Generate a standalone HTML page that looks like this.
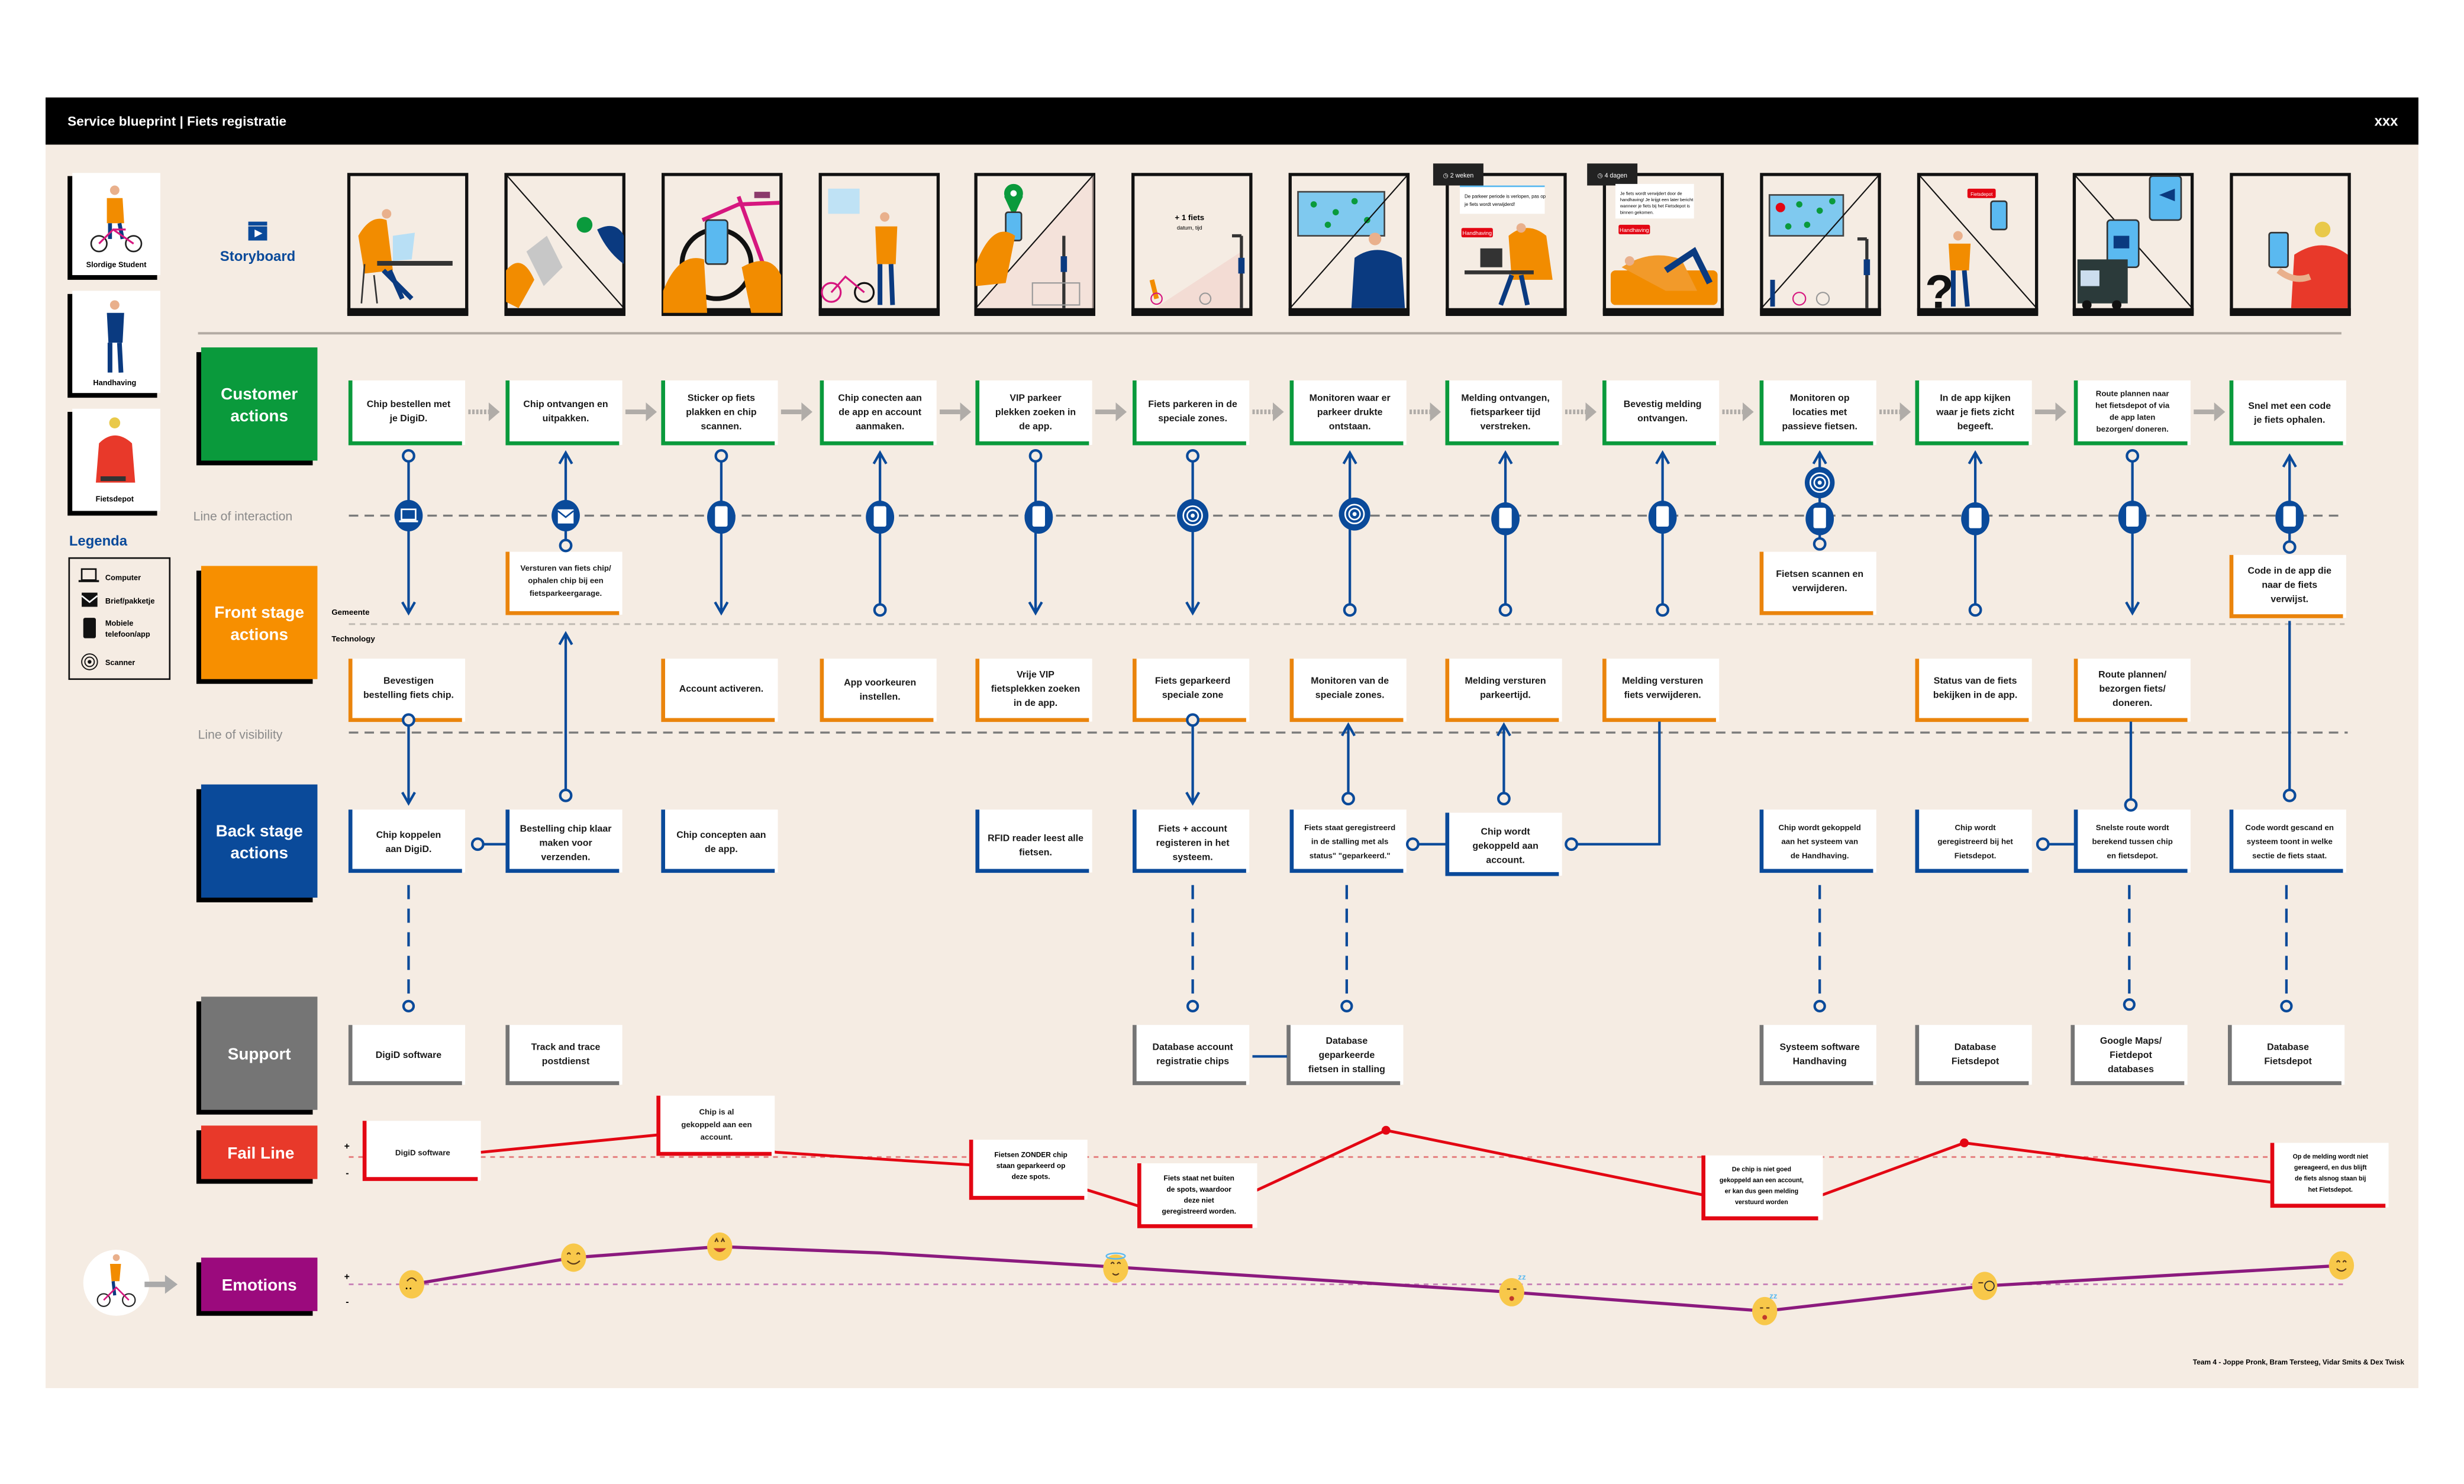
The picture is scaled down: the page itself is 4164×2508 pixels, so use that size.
<!DOCTYPE html>
<html><head><meta charset="utf-8">
<style>
html,body{margin:0;padding:0;background:#fff;}
svg{display:block;}
text{font-family:"Liberation Sans Narrow","Liberation Sans",sans-serif;}
.bt{font-size:6px;font-weight:bold;fill:#1a1a1a;}
.st{font-size:5px;font-weight:bold;fill:#1a1a1a;}
.lane{font-size:10.5px;font-weight:bold;fill:#fff;font-family:"Liberation Sans",sans-serif;}
.conn{stroke:#0a4a9a;stroke-width:1.6;fill:none;}
.oc{fill:#f5ece3;stroke:#0a4a9a;stroke-width:1.6;}
.ic{fill:#0a4a9a;}
.fr{fill:#f5ece3;stroke:#111;stroke-width:2;}
</style></head>
<body>
<svg width="4164" height="2508" viewBox="0 0 1568 944" preserveAspectRatio="none" xmlns="http://www.w3.org/2000/svg">
<rect x="0" y="0" width="1568" height="944" fill="#fff"/>
<rect x="29" y="62" width="1510" height="821" fill="#f5ece3"/>
<rect x="29" y="62" width="1510" height="30" fill="#000"/>
<text x="43" y="80" style="font-size:8.5px;font-weight:bold;fill:#fff">Service blueprint | Fiets registratie</text>
<text x="1526" y="80" text-anchor="end" style="font-size:9px;font-weight:bold;fill:#fff;font-family:'Liberation Sans',sans-serif">xxx</text>

<!-- personas -->
<g>
<rect x="43" y="112" width="57" height="66" fill="#000"/><rect x="46" y="110" width="56" height="65" fill="#fff"/>
<circle cx="73" cy="121" r="3" fill="#e9b08c"/><path d="M68 126 L78 126 L79 142 L68 142Z" fill="#f28c00"/><path d="M70 142 L70 152 M76 142 L78 152" stroke="#0a3a80" stroke-width="2.5"/>
<circle cx="63" cy="155" r="5" fill="none" stroke="#222" stroke-width="1"/><circle cx="85" cy="155" r="5" fill="none" stroke="#222" stroke-width="1"/><path d="M63 155 L72 146 L85 155 M72 146 L80 146" stroke="#d6177f" stroke-width="1.2" fill="none"/>
<text x="74" y="170" text-anchor="middle" style="font-size:4.8px;font-weight:bold">Slordige Student</text>

<rect x="43" y="187" width="57" height="66" fill="#000"/><rect x="46" y="185" width="56" height="65" fill="#fff"/>
<circle cx="73" cy="194" r="3" fill="#e9b08c"/><path d="M68 199 L79 199 L78 218 L69 218Z" fill="#0a3a80"/><path d="M70 218 L70 237 M76 218 L77 237" stroke="#0a3a80" stroke-width="3"/>
<text x="73" y="245" text-anchor="middle" style="font-size:4.8px;font-weight:bold">Handhaving</text>

<rect x="43" y="262" width="57" height="66" fill="#000"/><rect x="46" y="260" width="56" height="65" fill="#fff"/>
<circle cx="73" cy="269" r="3.5" fill="#e9c94a"/><path d="M63 282 Q73 272 84 282 L86 307 L61 307Z" fill="#e8392a"/><rect x="64" y="303" width="16" height="3" fill="#333"/>
<text x="73" y="319" text-anchor="middle" style="font-size:4.8px;font-weight:bold">Fietsdepot</text>
</g>

<!-- storyboard label -->
<rect x="158" y="144" width="12" height="9" fill="#0a4a9a"/><rect x="158" y="141" width="12" height="2.5" fill="#0a4a9a"/><path d="M162 146 L167 148.5 L162 151Z" fill="#fff"/>
<text x="164" y="166" text-anchor="middle" style="font-size:9px;font-weight:bold;fill:#0a4a9a">Storyboard</text>

<!-- storyboard frames -->
<g>
<rect x="222" y="111" width="75" height="88" class="fr"/><rect x="221" y="196" width="77" height="5" fill="#111"/>
<path d="M228 150 Q236 136 246 140 L250 172 L232 174Z" fill="#f28c00"/><circle cx="246" cy="136" r="3" fill="#e9b08c"/><rect x="240" y="166" width="48" height="3" fill="#333"/><path d="M250 150 L264 148 L262 165 L250 166Z" fill="#b8dff5"/><path d="M244 172 L262 190 M248 172 L256 190" stroke="#0a3a80" stroke-width="3"/><path d="M232 168 L230 193 M238 175 L240 193" stroke="#333" stroke-width="1"/>
<rect x="322" y="111" width="75" height="88" class="fr"/><rect x="321" y="196" width="77" height="5" fill="#111"/>
<line x1="322" y1="111" x2="397" y2="196" stroke="#111" stroke-width="0.8"/>
<path d="M335 160 L348 150 L358 170 L346 182Z" fill="#c7c7c7"/><path d="M322 192 L322 172 Q332 160 340 178 L330 196Z" fill="#f28c00"/><circle cx="372" cy="143" r="5" fill="#0a9a3c"/><path d="M380 146 Q392 140 397 150 L397 168 Q386 160 380 146Z" fill="#0a3a80"/>
<rect x="422" y="111" width="75" height="88" class="fr"/><rect x="421" y="196" width="77" height="5" fill="#111"/>
<circle cx="456" cy="168" r="22" fill="none" stroke="#111" stroke-width="3"/><path d="M447 140 L470 130 L496 129 M470 125 L490 180" stroke="#d6177f" stroke-width="2.5" fill="none"/><rect x="480" y="122" width="10" height="4" fill="#8b3a6b"/><rect x="449" y="140" width="14" height="28" rx="2" fill="#5ab9f0" stroke="#333"/><path d="M422 185 Q432 160 448 165 L450 199 L422 199Z" fill="#f28c00"/><path d="M472 170 Q490 160 497 175 L497 199 L478 199Z" fill="#f28c00"/>
<rect x="522" y="111" width="75" height="88" class="fr"/><rect x="521" y="196" width="77" height="5" fill="#111"/>
<rect x="527" y="120" width="20" height="16" fill="#bfe2f5"/><circle cx="563" cy="138" r="3" fill="#e9b08c"/><path d="M557 144 L571 144 L570 168 L558 168Z" fill="#f28c00"/><path d="M560 168 L560 194 M567 168 L568 194" stroke="#0a3a80" stroke-width="3"/><circle cx="529" cy="186" r="6" fill="none" stroke="#d6177f" stroke-width="1.2"/><circle cx="550" cy="186" r="6" fill="none" stroke="#111" stroke-width="1.2"/><path d="M529 186 L538 176 L550 186" stroke="#d6177f" stroke-width="1.2" fill="none"/>
<rect x="621" y="111" width="75" height="88" class="fr"/><rect x="620" y="196" width="77" height="5" fill="#111"/>
<path d="M621 196 L696 111 L696 196Z" fill="#f3dcd4" opacity="0.6"/>
<line x1="621" y1="196" x2="696" y2="111" stroke="#111" stroke-width="0.8"/>
<circle cx="645" cy="123" r="6" fill="#0a9a3c"/><path d="M639 125 L645 138 L651 125Z" fill="#0a9a3c"/><circle cx="645" cy="123" r="2" fill="#fff"/><rect x="640" y="135" width="10" height="18" rx="1.5" fill="#5ab9f0" stroke="#333"/><path d="M621 168 Q632 140 646 150 L640 180 L621 182Z" fill="#f28c00"/><path d="M677 150 L677 196" stroke="#333" stroke-width="2"/><rect x="675" y="163" width="4" height="10" fill="#0a3a80"/><rect x="657" y="180" width="30" height="14" fill="none" stroke="#999" stroke-width="0.8"/>
<rect x="721" y="111" width="75" height="88" class="fr"/><rect x="720" y="196" width="77" height="5" fill="#111"/>
<path d="M735 196 L790 160 L790 196Z" fill="#f3dcd4"/>
<text x="757" y="140" text-anchor="middle" style="font-size:5px;font-weight:bold">+ 1 fiets</text><text x="757" y="146" text-anchor="middle" style="font-size:3.5px">datum, tijd</text>
<path d="M790 150 L790 196" stroke="#333" stroke-width="2"/><rect x="788" y="164" width="4" height="10" fill="#0a3a80"/><path d="M784 150 L790 150" stroke="#333" stroke-width="2"/><path d="M733 178 L736 190" stroke="#f28c00" stroke-width="3"/><circle cx="736" cy="190" r="3.5" fill="none" stroke="#d6177f" stroke-width="0.8"/><circle cx="767" cy="190" r="3.5" fill="none" stroke="#999" stroke-width="0.8"/>
<rect x="821" y="111" width="75" height="88" class="fr"/><rect x="820" y="196" width="77" height="5" fill="#111"/>
<rect x="826" y="122" width="55" height="28" fill="#7fc9ef" stroke="#444" stroke-width="1"/><circle cx="836" cy="130" r="2" fill="#0a9a3c"/><circle cx="850" cy="135" r="2" fill="#0a9a3c"/><circle cx="862" cy="128" r="2" fill="#0a9a3c"/><circle cx="845" cy="143" r="2" fill="#0a9a3c"/><circle cx="870" cy="140" r="2" fill="#0a9a3c"/>
<line x1="821" y1="196" x2="896" y2="111" stroke="#111" stroke-width="0.8"/>
<circle cx="875" cy="152" r="4" fill="#e9b08c"/><path d="M862 164 Q876 154 892 164 L894 196 L860 196Z" fill="#0a3a80"/>
<rect x="921" y="111" width="75" height="88" class="fr"/><rect x="920" y="196" width="77" height="5" fill="#111"/>
<rect x="912" y="104" width="32" height="14" fill="#222"/><text x="928" y="113" text-anchor="middle" style="font-size:4px;fill:#fff">&#9719; 2 weken</text>
<rect x="929" y="118" width="54" height="18" fill="#fff"/><rect x="929" y="118" width="54" height="1" fill="#5ab9f0"/><text x="932" y="126" style="font-size:3px">De parkeer periode is verlopen, pas op</text><text x="932" y="131" style="font-size:3px">je fiets wordt verwijderd!</text>
<rect x="930" y="145" width="20" height="6" rx="1" fill="#e30613"/><text x="940" y="149.5" text-anchor="middle" style="font-size:3.5px;fill:#fff">Handhaving</text>
<path d="M960 150 Q972 140 984 150 L988 178 L962 178Z" fill="#f28c00"/><circle cx="968" cy="145" r="3" fill="#e9b08c"/><rect x="942" y="158" width="14" height="12" fill="#333"/><rect x="932" y="172" width="44" height="2.5" fill="#333"/><path d="M962 175 L955 194 M968 175 L972 194" stroke="#0a3a80" stroke-width="3"/>
<rect x="1021" y="111" width="75" height="88" class="fr"/><rect x="1020" y="196" width="77" height="5" fill="#111"/>
<rect x="1010" y="104" width="32" height="14" fill="#222"/><text x="1026" y="113" text-anchor="middle" style="font-size:4px;fill:#fff">&#9719; 4 dagen</text>
<rect x="1028" y="117" width="50" height="22" fill="#fff"/><text x="1031" y="124" style="font-size:2.8px">Je fiets wordt verwijdert door de</text><text x="1031" y="128" style="font-size:2.8px">handhaving! Je krijgt een later bericht</text><text x="1031" y="132" style="font-size:2.8px">wanneer je fiets bij het Fietsdepot is</text><text x="1031" y="136" style="font-size:2.8px">binnen gekomen.</text>
<rect x="1030" y="143" width="20" height="6" rx="1" fill="#e30613"/><text x="1040" y="147.5" text-anchor="middle" style="font-size:3.5px;fill:#fff">Handhaving</text>
<rect x="1025" y="172" width="68" height="22" rx="3" fill="#f28c00"/><path d="M1032 170 Q1050 158 1070 165 L1080 185 L1060 185 Z" fill="#f29a2a"/><path d="M1060 172 L1078 160 L1088 180" stroke="#0a3a80" stroke-width="4" fill="none"/><circle cx="1037" cy="166" r="3" fill="#e9b08c"/>
<rect x="1121" y="111" width="75" height="88" class="fr"/><rect x="1120" y="196" width="77" height="5" fill="#111"/>
<rect x="1126" y="124" width="47" height="26" fill="#7fc9ef" stroke="#444" stroke-width="1"/><circle cx="1133" cy="132" r="3" fill="#e30613"/><circle cx="1145" cy="130" r="2" fill="#0a9a3c"/><circle cx="1158" cy="134" r="2" fill="#0a9a3c"/><circle cx="1150" cy="143" r="2" fill="#0a9a3c"/><circle cx="1138" cy="144" r="2" fill="#0a9a3c"/><circle cx="1166" cy="128" r="2" fill="#0a9a3c"/>
<line x1="1121" y1="196" x2="1196" y2="111" stroke="#111" stroke-width="0.8"/>
<path d="M1188 152 L1188 196" stroke="#333" stroke-width="2"/><rect x="1186" y="165" width="4" height="10" fill="#0a3a80"/><path d="M1182 152 L1188 152" stroke="#333" stroke-width="2"/><path d="M1128 178 L1128 195" stroke="#0a3a80" stroke-width="3"/><circle cx="1145" cy="190" r="4" fill="none" stroke="#d6177f" stroke-width="0.8"/><circle cx="1160" cy="190" r="4" fill="none" stroke="#999" stroke-width="0.8"/>
<rect x="1221" y="111" width="75" height="88" class="fr"/><rect x="1220" y="196" width="77" height="5" fill="#111"/>
<line x1="1221" y1="111" x2="1296" y2="196" stroke="#111" stroke-width="0.8"/>
<text x="1225" y="196" style="font-size:30px;font-weight:bold;fill:#111;font-family:'Liberation Sans',sans-serif">?</text>
<circle cx="1246" cy="150" r="3" fill="#e9b08c"/><path d="M1240 155 L1254 155 L1253 172 L1241 172Z" fill="#f28c00"/><path d="M1243 172 L1243 195 M1250 172 L1252 195" stroke="#0a3a80" stroke-width="3"/><rect x="1267" y="128" width="10" height="18" rx="1.5" fill="#5ab9f0" stroke="#333"/><rect x="1252" y="120" width="18" height="6" rx="1" fill="#e30613"/><text x="1261" y="124.5" text-anchor="middle" style="font-size:3px;fill:#fff">Fietsdepot</text>
<rect x="1320" y="111" width="75" height="88" class="fr"/><rect x="1319" y="196" width="77" height="5" fill="#111"/>
<line x1="1320" y1="111" x2="1395" y2="196" stroke="#111" stroke-width="0.8"/>
<rect x="1341" y="140" width="20" height="30" rx="2" fill="#5ab9f0" stroke="#333"/><rect x="1345" y="150" width="10" height="8" fill="#0a3a80"/><rect x="1368" y="112" width="20" height="28" rx="2" fill="#5ab9f0" stroke="#333"/><path d="M1374 124 L1384 120 L1384 128Z" fill="#0a3a80"/><rect x="1322" y="165" width="32" height="28" fill="#2b3a3a"/><rect x="1324" y="172" width="12" height="10" fill="#cde"/><circle cx="1328" cy="194" r="3" fill="#111"/><circle cx="1347" cy="194" r="3" fill="#111"/>
<rect x="1420" y="111" width="75" height="88" class="fr"/><rect x="1419" y="196" width="77" height="5" fill="#111"/>
<circle cx="1478" cy="146" r="5" fill="#e9c94a"/><path d="M1460 162 Q1478 150 1494 162 L1494 196 L1458 196Z" fill="#e8392a"/><rect x="1444" y="148" width="12" height="22" rx="1.5" fill="#5ab9f0" stroke="#333"/><path d="M1450 172 Q1460 180 1470 176" stroke="#e9b08c" stroke-width="4" fill="none"/>
</g>

<line x1="126" y1="212" x2="1490" y2="212" stroke="#b3aba3" stroke-width="1.5"/>

<g>
<rect x="125" y="224" width="74" height="72" fill="#000"/><rect x="128" y="221" width="74" height="72" fill="#0a9a3c"/>
<text x="165" y="254" text-anchor="middle" class="lane">Customer</text><text x="165" y="268" text-anchor="middle" class="lane">actions</text>
<rect x="125" y="363" width="74" height="72" fill="#000"/><rect x="128" y="360" width="74" height="72" fill="#f78f00"/>
<text x="165" y="393" text-anchor="middle" class="lane">Front stage</text><text x="165" y="407" text-anchor="middle" class="lane">actions</text>
<rect x="125" y="502" width="74" height="72" fill="#000"/><rect x="128" y="499" width="74" height="72" fill="#0a4a9a"/>
<text x="165" y="532" text-anchor="middle" class="lane">Back stage</text><text x="165" y="546" text-anchor="middle" class="lane">actions</text>
<rect x="125" y="637" width="74" height="72" fill="#000"/><rect x="128" y="634" width="74" height="72" fill="#757575"/>
<text x="165" y="674" text-anchor="middle" class="lane">Support</text>
<rect x="125" y="719" width="74" height="34" fill="#000"/><rect x="128" y="716" width="74" height="34" fill="#e8392a"/>
<text x="166" y="737" text-anchor="middle" class="lane">Fail Line</text>
<rect x="125" y="803" width="74" height="34" fill="#000"/><rect x="128" y="800" width="74" height="34" fill="#9b0a7d"/>
<text x="165" y="821" text-anchor="middle" class="lane">Emotions</text>
</g>

<text x="44" y="347" style="font-size:9px;font-weight:bold;fill:#0a4a9a">Legenda</text>
<rect x="44" y="355" width="64" height="77" fill="none" stroke="#111" stroke-width="1"/>
<rect x="52" y="362" width="9" height="7" fill="none" stroke="#111" stroke-width="1"/><rect x="50" y="369" width="13" height="1.3" fill="#111"/>
<text x="67" y="369" style="font-size:4.8px;font-weight:bold">Computer</text>
<rect x="52" y="377" width="10" height="9" fill="#111"/><path d="M52 379 L57 383 L62 379" stroke="#fff" stroke-width="1" fill="none"/>
<text x="67" y="384" style="font-size:4.8px;font-weight:bold">Brief/pakketje</text>
<rect x="53" y="393" width="8" height="13" rx="1.2" fill="#111"/>
<text x="67" y="398" style="font-size:4.8px;font-weight:bold">Mobiele</text><text x="67" y="405" style="font-size:4.8px;font-weight:bold">telefoon/app</text>
<circle cx="57" cy="421" r="5" fill="none" stroke="#111" stroke-width="0.7"/><circle cx="57" cy="421" r="3" fill="none" stroke="#111" stroke-width="0.7"/><circle cx="57" cy="421" r="1.2" fill="#111"/>
<text x="67" y="423" style="font-size:4.8px;font-weight:bold">Scanner</text>

<text x="123" y="331" style="font-size:8px;fill:#8a8a8a;font-family:'Liberation Sans',sans-serif">Line of interaction</text>
<line x1="222" y1="328" x2="1492" y2="328" stroke="#7a7a7a" stroke-width="1.3" stroke-dasharray="6 4"/>
<text x="211" y="391" style="font-size:5px;font-weight:bold">Gemeente</text>
<text x="211" y="408" style="font-size:5px;font-weight:bold">Technology</text>
<line x1="222" y1="397" x2="1492" y2="397" stroke="#c0bab3" stroke-width="1.1" stroke-dasharray="4 3"/>
<text x="126" y="470" style="font-size:8px;fill:#8a8a8a;font-family:'Liberation Sans',sans-serif">Line of visibility</text>
<line x1="222" y1="466" x2="1494" y2="466" stroke="#7a7a7a" stroke-width="1.3" stroke-dasharray="6 4"/>

<g>
<defs>
<g id="cbg"><rect x="0" y="0" width="74" height="41" fill="#fff"/><path d="M1 0 V40 H72" stroke="#0a9a3c" stroke-width="2.5" fill="none"/></g>
<g id="fbg"><rect x="0" y="0" width="74" height="40" fill="#fff"/><path d="M1 0 V39 H72" stroke="#ea840c" stroke-width="2.5" fill="none"/></g>
<g id="bbg"><rect x="0" y="0" width="74" height="40" fill="#fff"/><path d="M1 0 V39 H72" stroke="#0a4a9a" stroke-width="2.5" fill="none"/></g>
<g id="sbg"><rect x="0" y="0" width="74" height="38" fill="#fff"/><path d="M1 0 V37 H72" stroke="#757575" stroke-width="2.5" fill="none"/></g>
<g id="rbg"><rect x="0" y="0" width="75" height="38" fill="#fff"/><path d="M1 0 V37 H73" stroke="#e30613" stroke-width="2.5" fill="none"/></g>
</defs>
<use href="#cbg" x="222" y="242"/><use href="#cbg" x="322" y="242"/><use href="#cbg" x="421" y="242"/><use href="#cbg" x="522" y="242"/><use href="#cbg" x="621" y="242"/><use href="#cbg" x="721" y="242"/><use href="#cbg" x="821" y="242"/><use href="#cbg" x="920" y="242"/><use href="#cbg" x="1020" y="242"/><use href="#cbg" x="1120" y="242"/><use href="#cbg" x="1219" y="242"/><use href="#cbg" x="1320" y="242"/><use href="#cbg" x="1419" y="242"/>
<text class="bt" text-anchor="middle"><tspan x="260" y="259">Chip bestellen met</tspan><tspan x="260" y="268">je DigiD.</tspan></text>
<text class="bt" text-anchor="middle"><tspan x="360" y="259">Chip ontvangen en</tspan><tspan x="360" y="268">uitpakken.</tspan></text>
<text class="bt" text-anchor="middle"><tspan x="459" y="255">Sticker op fiets</tspan><tspan x="459" y="264">plakken en chip</tspan><tspan x="459" y="273">scannen.</tspan></text>
<text class="bt" text-anchor="middle"><tspan x="560" y="255">Chip conecten aan</tspan><tspan x="560" y="264">de app en account</tspan><tspan x="560" y="273">aanmaken.</tspan></text>
<text class="bt" text-anchor="middle"><tspan x="659" y="255">VIP parkeer</tspan><tspan x="659" y="264">plekken zoeken in</tspan><tspan x="659" y="273">de app.</tspan></text>
<text class="bt" text-anchor="middle"><tspan x="759" y="259">Fiets parkeren in de</tspan><tspan x="759" y="268">speciale zones.</tspan></text>
<text class="bt" text-anchor="middle"><tspan x="859" y="255">Monitoren waar er</tspan><tspan x="859" y="264">parkeer drukte</tspan><tspan x="859" y="273">ontstaan.</tspan></text>
<text class="bt" text-anchor="middle"><tspan x="958" y="255">Melding ontvangen,</tspan><tspan x="958" y="264">fietsparkeer tijd</tspan><tspan x="958" y="273">verstreken.</tspan></text>
<text class="bt" text-anchor="middle"><tspan x="1058" y="259">Bevestig melding</tspan><tspan x="1058" y="268">ontvangen.</tspan></text>
<text class="bt" text-anchor="middle"><tspan x="1158" y="255">Monitoren op</tspan><tspan x="1158" y="264">locaties met</tspan><tspan x="1158" y="273">passieve fietsen.</tspan></text>
<text class="bt" text-anchor="middle"><tspan x="1257" y="255">In de app kijken</tspan><tspan x="1257" y="264">waar je fiets zicht</tspan><tspan x="1257" y="273">begeeft.</tspan></text>
<text class="st" text-anchor="middle"><tspan x="1357" y="252">Route plannen naar</tspan><tspan x="1357" y="259.5">het fietsdepot of via</tspan><tspan x="1357" y="267">de app laten</tspan><tspan x="1357" y="274.5">bezorgen/ doneren.</tspan></text>
<text class="bt" text-anchor="middle"><tspan x="1457" y="260">Snel met een code</tspan><tspan x="1457" y="269">je fiets ophalen.</tspan></text>
</g>

<g stroke="#b0aca8" stroke-width="3" fill="none">
<line x1="298" y1="262" x2="311" y2="262" stroke-dasharray="1.5 1"/>
<line x1="398" y1="262" x2="411" y2="262"/>
<line x1="497" y1="262" x2="510" y2="262"/>
<line x1="598" y1="262" x2="611" y2="262"/>
<line x1="697" y1="262" x2="710" y2="262"/>
<line x1="797" y1="262" x2="810" y2="262" stroke-dasharray="1.5 1"/>
<line x1="897" y1="262" x2="910" y2="262" stroke-dasharray="1.5 1"/>
<line x1="996" y1="262" x2="1009" y2="262" stroke-dasharray="1.5 1"/>
<line x1="1096" y1="262" x2="1109" y2="262" stroke-dasharray="1.5 1"/>
<line x1="1196" y1="262" x2="1209" y2="262" stroke-dasharray="1.5 1"/>
<line x1="1295" y1="262" x2="1308" y2="262"/>
<line x1="1396" y1="262" x2="1409" y2="262"/>
</g>
<g fill="#b0aca8">
<path d="M311 256 L318 262 L311 268Z"/><path d="M411 256 L418 262 L411 268Z"/><path d="M510 256 L517 262 L510 268Z"/><path d="M611 256 L618 262 L611 268Z"/><path d="M710 256 L717 262 L710 268Z"/><path d="M810 256 L817 262 L810 268Z"/><path d="M910 256 L917 262 L910 268Z"/><path d="M1009 256 L1016 262 L1009 268Z"/><path d="M1109 256 L1116 262 L1109 268Z"/><path d="M1209 256 L1216 262 L1209 268Z"/><path d="M1308 256 L1315 262 L1308 268Z"/><path d="M1409 256 L1416 262 L1409 268Z"/>
</g>

<use href="#fbg" x="322" y="351"/>
<text class="st" text-anchor="middle"><tspan x="360" y="363">Versturen van fiets chip/</tspan><tspan x="360" y="371">ophalen chip bij een</tspan><tspan x="360" y="379">fietsparkeergarage.</tspan></text>
<use href="#fbg" x="1120" y="351"/>
<text class="bt" text-anchor="middle"><tspan x="1158" y="367">Fietsen scannen en</tspan><tspan x="1158" y="376">verwijderen.</tspan></text>
<use href="#fbg" x="1419" y="353"/>
<text class="bt" text-anchor="middle"><tspan x="1457" y="365">Code in de app die</tspan><tspan x="1457" y="374">naar de fiets</tspan><tspan x="1457" y="383">verwijst.</tspan></text>

<use href="#fbg" x="222" y="419"/><text class="bt" text-anchor="middle"><tspan x="260" y="435">Bevestigen</tspan><tspan x="260" y="444">bestelling fiets chip.</tspan></text>
<use href="#fbg" x="421" y="419"/><text class="bt" text-anchor="middle"><tspan x="459" y="440">Account activeren.</tspan></text>
<use href="#fbg" x="522" y="419"/><text class="bt" text-anchor="middle"><tspan x="560" y="436">App voorkeuren</tspan><tspan x="560" y="445">instellen.</tspan></text>
<use href="#fbg" x="621" y="419"/><text class="bt" text-anchor="middle"><tspan x="659" y="431">Vrije VIP</tspan><tspan x="659" y="440">fietsplekken zoeken</tspan><tspan x="659" y="449">in de app.</tspan></text>
<use href="#fbg" x="721" y="419"/><text class="bt" text-anchor="middle"><tspan x="759" y="435">Fiets geparkeerd</tspan><tspan x="759" y="444">speciale zone</tspan></text>
<use href="#fbg" x="821" y="419"/><text class="bt" text-anchor="middle"><tspan x="859" y="435">Monitoren van de</tspan><tspan x="859" y="444">speciale zones.</tspan></text>
<use href="#fbg" x="920" y="419"/><text class="bt" text-anchor="middle"><tspan x="958" y="435">Melding versturen</tspan><tspan x="958" y="444">parkeertijd.</tspan></text>
<use href="#fbg" x="1020" y="419"/><text class="bt" text-anchor="middle"><tspan x="1058" y="435">Melding versturen</tspan><tspan x="1058" y="444">fiets verwijderen.</tspan></text>
<use href="#fbg" x="1219" y="419"/><text class="bt" text-anchor="middle"><tspan x="1257" y="435">Status van de fiets</tspan><tspan x="1257" y="444">bekijken in de app.</tspan></text>
<use href="#fbg" x="1320" y="419"/><text class="bt" text-anchor="middle"><tspan x="1357" y="431">Route plannen/</tspan><tspan x="1357" y="440">bezorgen fiets/</tspan><tspan x="1357" y="449">doneren.</tspan></text>

<use href="#bbg" x="222" y="515"/><text class="bt" text-anchor="middle"><tspan x="260" y="533">Chip koppelen</tspan><tspan x="260" y="542">aan DigiD.</tspan></text>
<use href="#bbg" x="322" y="515"/><text class="bt" text-anchor="middle"><tspan x="360" y="529">Bestelling chip klaar</tspan><tspan x="360" y="538">maken voor</tspan><tspan x="360" y="547">verzenden.</tspan></text>
<use href="#bbg" x="421" y="515"/><text class="bt" text-anchor="middle"><tspan x="459" y="533">Chip concepten aan</tspan><tspan x="459" y="542">de app.</tspan></text>
<use href="#bbg" x="621" y="515"/><text class="bt" text-anchor="middle"><tspan x="659" y="535">RFID reader leest alle</tspan><tspan x="659" y="544">fietsen.</tspan></text>
<use href="#bbg" x="721" y="515"/><text class="bt" text-anchor="middle"><tspan x="759" y="529">Fiets + account</tspan><tspan x="759" y="538">registeren in het</tspan><tspan x="759" y="547">systeem.</tspan></text>
<use href="#bbg" x="821" y="515"/><text class="st" text-anchor="middle"><tspan x="859" y="528">Fiets staat geregistreerd</tspan><tspan x="859" y="537">in de stalling met als</tspan><tspan x="859" y="546">status" "geparkeerd."</tspan></text>
<use href="#bbg" x="920" y="517"/><text class="bt" text-anchor="middle"><tspan x="958" y="531">Chip wordt</tspan><tspan x="958" y="540">gekoppeld aan</tspan><tspan x="958" y="549">account.</tspan></text>
<use href="#bbg" x="1120" y="515"/><text class="st" text-anchor="middle"><tspan x="1158" y="528">Chip wordt gekoppeld</tspan><tspan x="1158" y="537">aan het systeem van</tspan><tspan x="1158" y="546">de Handhaving.</tspan></text>
<use href="#bbg" x="1219" y="515"/><text class="st" text-anchor="middle"><tspan x="1257" y="528">Chip wordt</tspan><tspan x="1257" y="537">geregistreerd bij het</tspan><tspan x="1257" y="546">Fietsdepot.</tspan></text>
<use href="#bbg" x="1320" y="515"/><text class="st" text-anchor="middle"><tspan x="1357" y="528">Snelste route wordt</tspan><tspan x="1357" y="537">berekend tussen chip</tspan><tspan x="1357" y="546">en fietsdepot.</tspan></text>
<use href="#bbg" x="1419" y="515"/><text class="st" text-anchor="middle"><tspan x="1457" y="528">Code wordt gescand en</tspan><tspan x="1457" y="537">systeem toont in welke</tspan><tspan x="1457" y="546">sectie de fiets staat.</tspan></text>

<use href="#sbg" x="222" y="652"/><text class="bt" text-anchor="middle"><tspan x="260" y="673">DigiD software</tspan></text>
<use href="#sbg" x="322" y="652"/><text class="bt" text-anchor="middle"><tspan x="360" y="668">Track and trace</tspan><tspan x="360" y="677">postdienst</tspan></text>
<use href="#sbg" x="721" y="652"/><text class="bt" text-anchor="middle"><tspan x="759" y="668">Database account</tspan><tspan x="759" y="677">registratie chips</tspan></text>
<use href="#sbg" x="819" y="652"/><text class="bt" text-anchor="middle"><tspan x="857" y="664">Database</tspan><tspan x="857" y="673">geparkeerde</tspan><tspan x="857" y="682">fietsen in stalling</tspan></text>
<use href="#sbg" x="1120" y="652"/><text class="bt" text-anchor="middle"><tspan x="1158" y="668">Systeem software</tspan><tspan x="1158" y="677">Handhaving</tspan></text>
<use href="#sbg" x="1219" y="652"/><text class="bt" text-anchor="middle"><tspan x="1257" y="668">Database</tspan><tspan x="1257" y="677">Fietsdepot</tspan></text>
<use href="#sbg" x="1318" y="652"/><text class="bt" text-anchor="middle"><tspan x="1356" y="664">Google Maps/</tspan><tspan x="1356" y="673">Fietdepot</tspan><tspan x="1356" y="682">databases</tspan></text>
<use href="#sbg" x="1418" y="652"/><text class="bt" text-anchor="middle"><tspan x="1456" y="668">Database</tspan><tspan x="1456" y="677">Fietsdepot</tspan></text>
<line x1="797" y1="672" x2="819" y2="672" class="conn" stroke-width="2"/>

<g>
<path class="conn" d="M260 294 V389 M256 383 L260 390 L264 383"/>
<path class="conn" d="M459 294 V389 M455 383 L459 390 L463 383"/>
<path class="conn" d="M659 294 V389 M655 383 L659 390 L663 383"/>
<path class="conn" d="M759 294 V389 M755 383 L759 390 L763 383"/>
<path class="conn" d="M1357 294 V389 M1353 383 L1357 390 L1361 383"/>
<circle cx="260" cy="290" r="3.5" class="oc"/><circle cx="459" cy="290" r="3.5" class="oc"/><circle cx="659" cy="290" r="3.5" class="oc"/><circle cx="759" cy="290" r="3.5" class="oc"/><circle cx="1357" cy="290" r="3.5" class="oc"/>
<path class="conn" d="M560 289 V384 M556 295 L560 288 L564 295"/><circle cx="560" cy="388" r="3.5" class="oc"/>
<path class="conn" d="M859 289 V384 M855 295 L859 288 L863 295"/><circle cx="859" cy="388" r="3.5" class="oc"/>
<path class="conn" d="M958 289 V384 M954 295 L958 288 L962 295"/><circle cx="958" cy="388" r="3.5" class="oc"/>
<path class="conn" d="M1058 289 V384 M1054 295 L1058 288 L1062 295"/><circle cx="1058" cy="388" r="3.5" class="oc"/>
<path class="conn" d="M1257 289 V384 M1253 295 L1257 288 L1261 295"/><circle cx="1257" cy="388" r="3.5" class="oc"/>
<path class="conn" d="M360 289 V344 M356 295 L360 288 L364 295"/><circle cx="360" cy="347" r="3.5" class="oc"/>
<path class="conn" d="M1158 289 V343 M1154 295 L1158 288 L1162 295"/><circle cx="1158" cy="346" r="3.5" class="oc"/>
<path class="conn" d="M1457 291 V344 M1453 297 L1457 290 L1461 297"/><circle cx="1457" cy="348" r="3.5" class="oc"/>
<ellipse cx="260" cy="328" rx="9" ry="10" class="ic"/><rect x="255.5" y="324" width="9" height="6.5" fill="none" stroke="#fff" stroke-width="1"/><rect x="254" y="331" width="12" height="1.2" fill="#fff"/>
<ellipse cx="360" cy="328" rx="9" ry="10" class="ic"/><rect x="355" y="324" width="10" height="9" fill="#fff"/><path d="M355 325 L360 329 L365 325" stroke="#0a4a9a" stroke-width="1" fill="none"/>
<g fill="#fff">
<ellipse cx="459" cy="329" rx="9" ry="10.5" class="ic"/><rect x="455" y="322" width="8" height="13" rx="1.2"/>
<ellipse cx="560" cy="329" rx="9" ry="10.5" class="ic"/><rect x="556" y="322" width="8" height="13" rx="1.2"/>
<ellipse cx="661" cy="329" rx="9" ry="10.5" class="ic"/><rect x="657" y="322" width="8" height="13" rx="1.2"/>
<ellipse cx="958" cy="330" rx="9" ry="10.5" class="ic"/><rect x="954" y="323" width="8" height="13" rx="1.2"/>
<ellipse cx="1058" cy="329" rx="9" ry="10.5" class="ic"/><rect x="1054" y="322" width="8" height="13" rx="1.2"/>
<ellipse cx="1158" cy="330" rx="9" ry="10.5" class="ic"/><rect x="1154" y="323" width="8" height="13" rx="1.2"/>
<ellipse cx="1257" cy="330" rx="9" ry="10.5" class="ic"/><rect x="1253" y="323" width="8" height="13" rx="1.2"/>
<ellipse cx="1357" cy="329" rx="9" ry="10.5" class="ic"/><rect x="1353" y="322" width="8" height="13" rx="1.2"/>
<ellipse cx="1457" cy="329" rx="9" ry="10.5" class="ic"/><rect x="1453" y="322" width="8" height="13" rx="1.2"/>
</g>
<g>
<ellipse cx="759" cy="328" rx="10" ry="10.5" class="ic"/><circle cx="759" cy="328" r="6" fill="none" stroke="#fff" stroke-width="1"/><circle cx="759" cy="328" r="3.5" fill="none" stroke="#fff" stroke-width="1"/><circle cx="759" cy="328" r="1.3" fill="#fff"/>
<ellipse cx="862" cy="327" rx="10" ry="10.5" class="ic"/><circle cx="862" cy="327" r="6" fill="none" stroke="#fff" stroke-width="1"/><circle cx="862" cy="327" r="3.5" fill="none" stroke="#fff" stroke-width="1"/><circle cx="862" cy="327" r="1.3" fill="#fff"/>
<ellipse cx="1158" cy="307" rx="9.5" ry="10" class="ic"/><circle cx="1158" cy="307" r="6" fill="none" stroke="#fff" stroke-width="1"/><circle cx="1158" cy="307" r="3.5" fill="none" stroke="#fff" stroke-width="1"/><circle cx="1158" cy="307" r="1.3" fill="#fff"/>
</g>
</g>

<g>
<path class="conn" d="M260 462 V510 M256 504 L260 511 L264 504"/><circle cx="260" cy="458" r="3.5" class="oc"/>
<path class="conn" d="M759 462 V510 M755 504 L759 511 L763 504"/><circle cx="759" cy="458" r="3.5" class="oc"/>
<path class="conn" d="M360 404 V502 M356 410 L360 403 L364 410"/><circle cx="360" cy="506" r="3.5" class="oc"/>
<path class="conn" d="M858 462 V504 M854 468 L858 461 L862 468"/><circle cx="858" cy="508" r="3.5" class="oc"/>
<path class="conn" d="M957 462 V504 M953 468 L957 461 L961 468"/><circle cx="957" cy="508" r="3.5" class="oc"/>
<path class="conn" d="M1056 459 V537 H1004"/><circle cx="1000" cy="537" r="3.5" class="oc"/>
<path class="conn" d="M1356 459 V508"/><circle cx="1356" cy="512" r="3.5" class="oc"/>
<path class="conn" d="M1457 395 V502"/><circle cx="1457" cy="506" r="3.5" class="oc"/>
<path class="conn" d="M308 537 H322"/><circle cx="304" cy="537" r="3.5" class="oc"/>
<path class="conn" d="M903 537 H920"/><circle cx="899" cy="537" r="3.5" class="oc"/>
<path class="conn" d="M1304 537 H1320"/><circle cx="1300" cy="537" r="3.5" class="oc"/>
<g class="conn" stroke-dasharray="9 6">
<line x1="260" y1="563" x2="260" y2="636"/><line x1="759" y1="563" x2="759" y2="636"/><line x1="857" y1="563" x2="857" y2="636"/><line x1="1158" y1="563" x2="1158" y2="636"/><line x1="1355" y1="563" x2="1355" y2="636"/><line x1="1455" y1="563" x2="1455" y2="636"/>
</g>
<circle cx="260" cy="640" r="3.2" class="oc"/><circle cx="759" cy="640" r="3.2" class="oc"/><circle cx="857" cy="640" r="3.2" class="oc"/><circle cx="1158" cy="640" r="3.2" class="oc"/><circle cx="1355" cy="639" r="3.2" class="oc"/><circle cx="1455" cy="640" r="3.2" class="oc"/>
</g>

<text x="219" y="731" style="font-size:6px;font-weight:bold">+</text><text x="220" y="748" style="font-size:6px;font-weight:bold">-</text>
<line x1="222" y1="736" x2="1492" y2="736" stroke="#e58080" stroke-width="1.1" stroke-dasharray="3 3"/>
<polyline points="306,733 418,722 494,733 617,741 692,757 724,767 800,757 882,719 1083,760 1160,760 1250,727 1445,752" fill="none" stroke="#e30613" stroke-width="1.8"/>
<circle cx="882" cy="719" r="2.8" fill="#e30613"/><circle cx="1250" cy="727" r="2.8" fill="#e30613"/>
<use href="#rbg" x="231" y="713"/><text class="st" text-anchor="middle"><tspan x="269" y="735">DigiD software</tspan></text>
<use href="#rbg" x="418" y="697"/><text class="st" text-anchor="middle"><tspan x="456" y="709">Chip is al</tspan><tspan x="456" y="717">gekoppeld aan een</tspan><tspan x="456" y="725">account.</tspan></text>
<use href="#rbg" x="617" y="725"/><text style="font-size:4.5px;font-weight:bold" text-anchor="middle"><tspan x="656" y="736">Fietsen ZONDER chip</tspan><tspan x="656" y="743">staan geparkeerd op</tspan><tspan x="656" y="750">deze spots.</tspan></text>
<rect x="724" y="740" width="76" height="41" fill="#fff"/><path d="M725 740 V780 H797" stroke="#e30613" stroke-width="2.5" fill="none"/>
<text style="font-size:4.5px;font-weight:bold" text-anchor="middle"><tspan x="763" y="751">Fiets staat net buiten</tspan><tspan x="763" y="758">de spots, waardoor</tspan><tspan x="763" y="765">deze niet</tspan><tspan x="763" y="772">geregistreerd worden.</tspan></text>
<rect x="1083" y="735" width="77" height="41" fill="#fff"/><path d="M1084 735 V775 H1157" stroke="#e30613" stroke-width="2.5" fill="none"/>
<text style="font-size:4px;font-weight:bold" text-anchor="middle"><tspan x="1121" y="745">De chip is niet goed</tspan><tspan x="1121" y="752">gekoppeld aan een account,</tspan><tspan x="1121" y="759">er kan dus geen melding</tspan><tspan x="1121" y="766">verstuurd worden</tspan></text>
<rect x="1445" y="727" width="75" height="41" fill="#fff"/><path d="M1446 727 V767 H1518" stroke="#e30613" stroke-width="2.5" fill="none"/>
<text style="font-size:4px;font-weight:bold" text-anchor="middle"><tspan x="1483" y="737">Op de melding wordt niet</tspan><tspan x="1483" y="744">gereageerd, en dus blijft</tspan><tspan x="1483" y="751">de fiets alsnog staan bij</tspan><tspan x="1483" y="758">het Fietsdepot.</tspan></text>

<circle cx="74" cy="816" r="21" fill="#fff"/>
<circle cx="74" cy="800" r="2.2" fill="#e9b08c"/><path d="M70 804 L77 804 L76 815 L71 815Z" fill="#f28c00"/><path d="M72 815 L73 824" stroke="#0a3a80" stroke-width="2"/>
<circle cx="66" cy="827" r="4" fill="none" stroke="#222" stroke-width="0.8"/><circle cx="82" cy="827" r="4" fill="none" stroke="#222" stroke-width="0.8"/><path d="M66 827 L74 819 L82 827" stroke="#d6177f" stroke-width="1" fill="none"/>
<path d="M92 817 L106 817" stroke="#aaa" stroke-width="3.5"/><path d="M105 811 L113 817 L105 823Z" fill="#aaa"/>
<text x="219" y="814" style="font-size:6px;font-weight:bold">+</text><text x="220" y="830" style="font-size:6px;font-weight:bold">-</text>
<line x1="222" y1="817" x2="1492" y2="817" stroke="#c883b8" stroke-width="1.1" stroke-dasharray="3 3"/>
<polyline points="262,817 365,800 458,793 560,797 710,806 962,822 1123,834 1263,818 1490,805" fill="none" stroke="#8b1a7e" stroke-width="2"/>
<g fill="#f8c84a">
<ellipse cx="262" cy="817" rx="8" ry="9"/><ellipse cx="365" cy="800" rx="8" ry="9"/><ellipse cx="458" cy="793" rx="8" ry="9"/><ellipse cx="710" cy="807" rx="8" ry="9"/><ellipse cx="962" cy="822" rx="8" ry="9"/><ellipse cx="1123" cy="834" rx="8" ry="9"/><ellipse cx="1263" cy="818" rx="8" ry="9"/><ellipse cx="1490" cy="805" rx="8" ry="9"/>
</g>
<g stroke="#5a3a1a" stroke-width="0.8" fill="none">
<path d="M259 815 Q262 811 265 815"/><path d="M361 798 Q362 796 363 798 M367 798 Q368 796 369 798 M361 802 Q365 806 369 802"/>
<path d="M455 790 L456 788 L457 790 M459 790 L460 788 L461 790"/><path d="M707 804 Q708 802 709 804 M711 804 Q712 802 713 804 M708 810 Q710 812 712 810"/>
<path d="M959 820 L961 820 M963 820 L965 820"/><path d="M1120 832 L1122 832 M1124 832 L1126 832"/>
<path d="M1259 816 L1262 816"/><path d="M1487 803 Q1488 801 1489 803 M1491 803 Q1492 801 1493 803 M1487 807 Q1490 810 1493 807"/>
</g>
<ellipse cx="710" cy="799" rx="6" ry="1.8" fill="none" stroke="#5ab9f0" stroke-width="0.9"/>
<path d="M454 794 Q458 799 462 794Z" fill="#c0392b"/><circle cx="962" cy="826" r="1.5" fill="#c0392b"/><circle cx="1123" cy="838" r="1.5" fill="#c0392b"/>
<text x="966" y="814" style="font-size:5px;fill:#5ab9f0;font-weight:bold">zz</text><text x="1126" y="826" style="font-size:5px;fill:#5ab9f0;font-weight:bold">zz</text>
<circle cx="1266" cy="818" r="3" fill="none" stroke="#333" stroke-width="0.7"/>
<text x="260" y="821" text-anchor="middle" style="font-size:4px">• •</text>

<text x="1530" y="868" text-anchor="end" style="font-size:4.5px;font-weight:bold">Team 4 - Joppe Pronk, Bram Tersteeg, Vidar Smits &amp; Dex Twisk</text>
</svg>
</body></html>
